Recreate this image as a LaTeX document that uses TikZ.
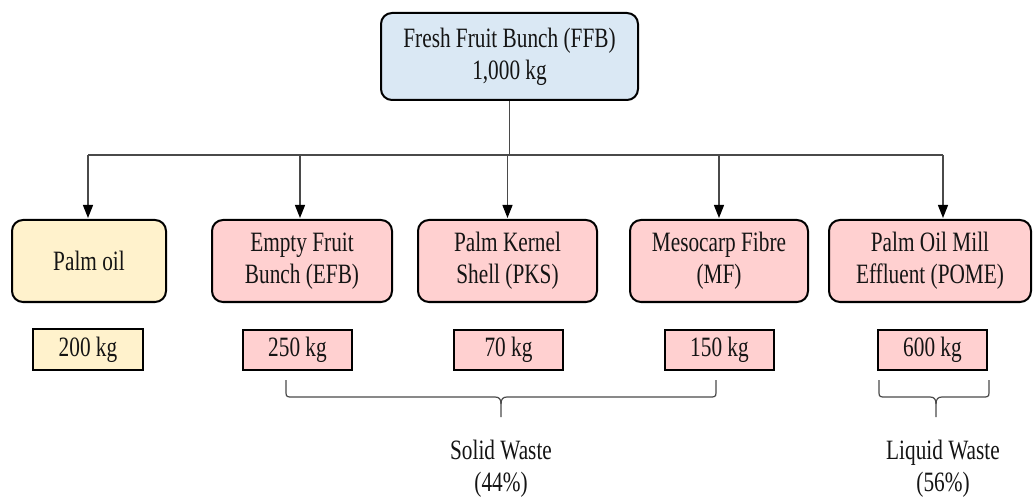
\documentclass[tikz,border=0pt]{standalone}
\usepackage{fontspec}
\setmainfont{Liberation Serif}[FakeStretch=0.76]
\usetikzlibrary{arrows.meta,calc}

\definecolor{ffbblue}{HTML}{DAE8F4}
\definecolor{oilyellow}{HTML}{FFF2CC}
\definecolor{wastepink}{HTML}{FFD0D0}
\definecolor{linegray}{HTML}{4A4A4A}
\definecolor{inkblack}{HTML}{141414}

\tikzset{
  base/.style={align=center, text=inkblack, inner sep=0pt,
    font=\fontsize{28}{32}\selectfont},
  mainbox/.style={base, draw=black, line width=2pt, rounded corners=11pt,
    minimum height=82pt},
  massbox/.style={base, draw=black, line width=2pt, minimum width=109pt,
    minimum height=40pt},
  bus/.style={draw=linegray, line width=1.3pt},
  arr/.style={bus, -{Triangle[length=13pt,width=10pt,color=black]}, shorten >=1pt},
  brace/.style={draw=linegray, line width=1.2pt},
  label/.style={base}
}

\begin{document}
\begin{tikzpicture}[x=1pt,y=-1pt]
  \useasboundingbox (0,0) rectangle (1034,497);

  % source
  \node[mainbox, fill=ffbblue, minimum width=257pt, minimum height=87pt]
    (ffb) at (509.5,56.5) {Fresh Fruit Bunch (FFB)\\1,000 kg};

  % products of the mill
  \node[mainbox, fill=oilyellow, minimum width=154pt] (palm) at (89,261) {Palm oil};
  \node[mainbox, fill=wastepink, minimum width=180pt] (efb) at (302,261) {Empty Fruit\\Bunch (EFB)};
  \node[mainbox, fill=wastepink, minimum width=179pt] (pks) at (507.5,261) {Palm Kernel\\Shell (PKS)};
  \node[mainbox, fill=wastepink, minimum width=178pt] (mf) at (719,261) {Mesocarp Fibre\\(MF)};
  \node[mainbox, fill=wastepink, minimum width=202pt] (pome) at (930,261) {Palm Oil Mill\\Effluent (POME)};

  % masses
  \node[massbox, fill=oilyellow, minimum width=110pt, minimum height=41pt] (m200) at (88,349.5) {200 kg};
  \node[massbox, fill=wastepink] (m250) at (297.5,350) {250 kg};
  \node[massbox, fill=wastepink] (m70) at (508.5,350) {70 kg};
  \node[massbox, fill=wastepink] (m150) at (719.5,350) {150 kg};
  \node[massbox, fill=wastepink] (m600) at (932.5,350) {600 kg};

  % distribution bus
  \coordinate (split) at (ffb.south |- 0,155);
  \coordinate (busL) at (88,155);
  \coordinate (busR) at (943,155);
  \coordinate (efbIn) at ($(efb.north)+(-2,0)$);
  \draw[bus] (ffb.south) -- (split);
  \draw[bus] (busL) -- (busR);
  \draw[arr] (busL) -- (busL |- palm.north);
  \draw[arr] (efbIn |- busL) -- (efbIn);
  \draw[arr] (pks.north |- busL) -- (pks.north);
  \draw[arr] (mf.north |- busL) -- (mf.north);
  \draw[arr] (busR) -- (busR |- pome.north);

  % brace for the solid streams
  \draw[brace] (286,380) -- (286,393) .. controls (286,397) and (288,397) .. (292,397)
    -- (495,397) .. controls (499,397) and (501,399) .. (501,404) -- (501,417);
  \draw[brace] (716,380) -- (716,393) .. controls (716,397) and (714,397) .. (710,397)
    -- (507,397) .. controls (503,397) and (501,399) .. (501,404);

  % brace for the liquid stream
  \draw[brace] (879,380) -- (879,393) .. controls (879,397) and (881,397) .. (885,397)
    -- (930,397) .. controls (934,397) and (936,399) .. (936,404) -- (936,417);
  \draw[brace] (989,380) -- (989,393) .. controls (989,397) and (987,397) .. (983,397)
    -- (942,397) .. controls (938,397) and (936,399) .. (936,404);

  % totals
  \node[label] (solid) at (501,469) {Solid Waste\\(44\%)};
  \node[label] (liquid) at (943,469) {Liquid Waste\\(56\%)};
\end{tikzpicture}
\end{document}
